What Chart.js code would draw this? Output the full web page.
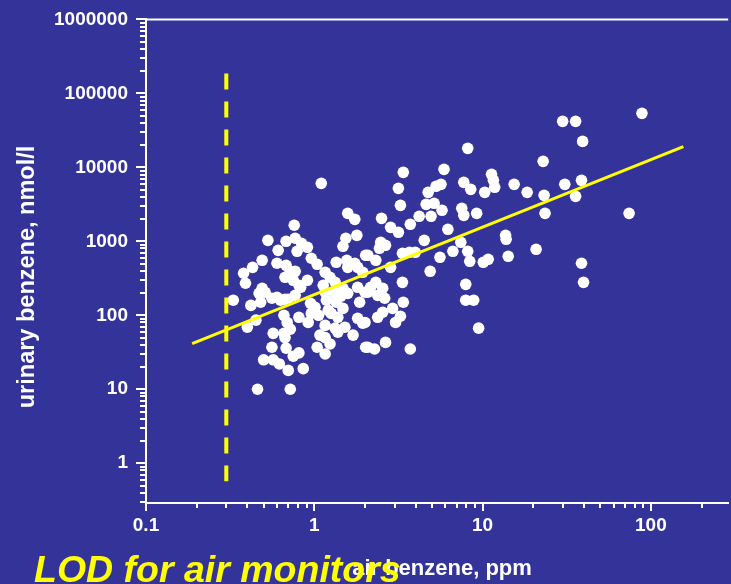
<!DOCTYPE html>
<html>
<head>
<meta charset="utf-8">
<script src="https://cdn.jsdelivr.net/npm/chart.js@4.4.1/dist/chart.umd.min.js"></script>
<style>
    html, body { margin: 0; padding: 0; background: #333399; overflow: hidden; }
    #wrap { width: 734px; height: 584px; }
</style>
</head>
<body>
<div id="wrap"><canvas id="benzeneChart" width="734" height="584"></canvas></div>
<script>
// air benzene (ppm) and urinary benzene (nmol/l) per worker
const airPpm = [
    0.33, 0.42, 0.48, 0.40, 0.45, 0.38, 0.39, 0.43, 0.49, 0.53,
    0.61, 0.68, 0.77, 0.76, 0.84, 0.91, 0.60, 0.68, 0.72, 0.49,
    0.47, 0.51, 0.60, 0.67, 0.77, 0.81, 0.79, 0.67, 0.77, 0.75,
    0.83, 0.56, 0.66, 0.69, 0.57, 0.66, 0.72, 0.67, 0.56, 0.68,
    0.50, 0.57, 0.62, 0.70, 0.75, 0.81, 0.46, 0.72, 0.63, 0.70,
    0.86, 0.91, 0.95, 0.96, 1.04, 0.81, 0.92, 1.06, 1.21, 0.96,
    1.01, 1.18, 1.35, 1.48, 1.16, 1.33, 1.44, 1.13, 1.16, 1.24,
    1.33, 1.04, 1.16, 1.24, 1.26, 1.38, 1.16, 1.33, 1.52, 1.70,
    1.81, 1.94, 1.38, 1.16, 1.08, 1.35, 1.56, 1.58, 1.74, 1.81,
    1.94, 2.02, 1.48, 1.54, 1.79, 1.58, 1.74, 1.48, 1.58, 1.81,
    2.0, 1.86, 2.02, 2.08, 2.32, 2.44, 2.48, 2.65, 2.51, 2.84,
    3.16, 2.84, 2.32, 2.55, 2.08, 2.16, 2.38, 2.62, 2.92, 3.38,
    2.55, 2.38, 3.25, 3.04, 2.0, 2.08, 2.28, 2.65, 3.72, 3.34,
    3.34, 3.67, 3.98, 3.72, 3.25, 3.16, 3.38, 4.2, 4.94, 4.62,
    5.15, 4.75, 5.29, 5.66, 5.74, 5.9, 6.22, 4.5, 4.88, 5.58,
    6.66, 8.16, 8.39, 10.1, 10.8, 14.2, 7.42, 7.52, 7.73, 9.22,
    7.73, 8.5, 10.3, 11.3, 11.6, 11.8, 8.16, 13.7, 13.8, 15.4,
    18.4, 20.8, 22.9, 23.2, 23.5, 30.8, 38.7, 35.7, 38.7, 39.8,
    39.3, 29.9, 35.7, 88.5, 74.2, 7.94, 7.94, 8.85, 9.47, 1.10
];
const urineNmol = [
    160, 136, 150, 69, 86, 370, 271, 445, 554, 1030,
    755, 1000, 1100, 1650, 940, 830, 505, 474, 393, 232,
    198, 205, 175, 165, 186, 254, 733, 326, 393, 297,
    239, 170, 100, 80, 57, 57, 65, 50, 37, 36,
    25, 25, 22, 18, 28, 31, 10, 10, 160, 165,
    19, 297, 145, 590, 489, 94, 80, 100, 117, 106,
    128, 160, 150, 124, 205, 198, 181, 254, 381, 326,
    279, 37, 30, 41, 106, 94, 73, 67, 69, 54,
    91, 78, 59, 50, 54, 520, 554, 445, 505, 445,
    381, 647, 856, 1100, 1205, 2390, 1980, 232, 198, 239,
    205, 150, 37, 647, 554, 804, 970, 883, 2045, 1545,
    1323, 445, 279, 232, 205, 239, 186, 170, 124, 150,
    110, 94, 97, 80, 80, 37, 35, 43, 35, 279,
    688, 710, 710, 1698, 3065, 5200, 8560, 2178, 2178, 3162,
    3265, 4595, 5540, 5890, 2624, 9400, 1453, 1030, 393, 608,
    733, 733, 537, 520, 571, 627, 970, 2793, 2245, 2390,
    6270, 5040, 4595, 8040, 6670, 5370, 18070, 1205, 1065, 5890,
    4595, 780, 12050, 4185, 2390, 5890, 6670, 4055, 505, 279,
    22440, 41860, 41860, 53700, 2390, 262, 160, 160, 67, 6080
];

// regression line ends and the LOD of the air monitors
const fitX = [0.188, 156];
const fitY = [41.5, 19050];
const lodX = [0.3, 0.3];
const lodY = [185000, 0.57];

const xTicks = [0.1, 1, 10, 100];
const yTicks = [1, 10, 100, 1000, 10000, 100000, 1000000];

const FONT = '"Liberation Sans", Arial, Helvetica, sans-serif';
const WHITE = '#ffffff';
const YELLOW = '#ffff00';

const toPoints = (xs, ys) => xs.map((v, i) => ({ x: v, y: ys[i] }));

// minor log ticks, top frame and the loose captions
const axisExtras = {
    id: 'axisExtras',
    afterDraw(chart) {
        const { ctx, chartArea, scales: { x, y } } = chart;
        ctx.save();
        ctx.strokeStyle = WHITE;
        ctx.lineWidth = 2;
        ctx.beginPath();
        ctx.moveTo(chartArea.left - 1, chartArea.top);
        ctx.lineTo(chartArea.right, chartArea.top);

        for (let e = Math.floor(Math.log10(y.min)); e < Math.log10(y.max); e++) {
            for (let m = 2; m < 10; m++) {
                const v = m * Math.pow(10, e);
                if (v < y.min || v > y.max) continue;
                const py = Math.round(y.getPixelForValue(v));
                ctx.moveTo(chartArea.left - 6, py);
                ctx.lineTo(chartArea.left, py);
            }
        }
        for (let e = Math.floor(Math.log10(x.min)); e < Math.log10(x.max); e++) {
            for (let m = 2; m < 10; m++) {
                const v = m * Math.pow(10, e);
                if (v < x.min || v > x.max) continue;
                const px = Math.round(x.getPixelForValue(v));
                ctx.moveTo(px, chartArea.bottom);
                ctx.lineTo(px, chartArea.bottom + 5);
            }
        }
        ctx.stroke();

        ctx.fillStyle = WHITE;
        ctx.font = 'bold 22px ' + FONT;
        ctx.textAlign = 'center';
        ctx.textBaseline = 'alphabetic';
        ctx.fillText('air benzene, ppm', 442, 575);

        ctx.save();
        ctx.translate(34, 277);
        ctx.rotate(-Math.PI / 2);
        ctx.font = 'bold 23.5px ' + FONT;
        ctx.fillText('urinary benzene, nmol/l', 0, 0);
        ctx.restore();

        ctx.fillStyle = YELLOW;
        ctx.textAlign = 'left';
        ctx.font = 'italic bold 37.5px ' + FONT;
        ctx.fillText('LOD for air monitors', 34, 582);
        ctx.restore();
    }
};

const ctx = document.getElementById('benzeneChart').getContext('2d');
const benzeneChart = new Chart(ctx, {
    type: 'scatter',
    data: {
        datasets: [
            {
                type: 'line',
                data: toPoints(fitX, fitY),
                borderColor: YELLOW,
                borderWidth: 3,
                pointRadius: 0,
                order: 0
            },
            {
                type: 'line',
                data: toPoints(lodX, lodY),
                borderColor: YELLOW,
                borderWidth: 4,
                borderDash: [16, 12],
                pointRadius: 0,
                order: 1
            },
            {
                data: toPoints(airPpm, urineNmol),
                backgroundColor: WHITE,
                borderWidth: 0,
                pointRadius: 5.8,
                order: 2
            }
        ]
    },
    options: {
        responsive: false,
        animation: false,
        layout: { padding: { top: 19, left: 0, right: 0, bottom: 0 } },
        plugins: {
            legend: { display: false },
            tooltip: { enabled: false }
        },
        scales: {
            x: {
                type: 'logarithmic',
                min: 0.1,
                max: 288,
                afterFit: s => { s.height = 81; },
                afterBuildTicks: s => { s.ticks = xTicks.map(v => ({ value: v })); },
                grid: { drawOnChartArea: false, color: WHITE, lineWidth: 2, tickLength: 8 },
                border: { color: WHITE, width: 2 },
                ticks: {
                    color: WHITE,
                    font: { family: FONT, size: 19, weight: 'bold' },
                    padding: 3,
                    maxRotation: 0,
                    autoSkip: false,
                    callback: v => String(v)
                }
            },
            y: {
                type: 'logarithmic',
                min: 0.29,
                max: 1000000,
                afterFit: s => { s.width = 146; },
                afterBuildTicks: s => { s.ticks = yTicks.map(v => ({ value: v })); },
                grid: { drawOnChartArea: false, color: WHITE, lineWidth: 2, tickLength: 10 },
                border: { color: WHITE, width: 2 },
                ticks: {
                    color: WHITE,
                    font: { family: FONT, size: 19, weight: 'bold' },
                    padding: 8,
                    autoSkip: false,
                    callback: v => String(v)
                }
            }
        }
    },
    plugins: [axisExtras]
});
</script>
</body>
</html>
